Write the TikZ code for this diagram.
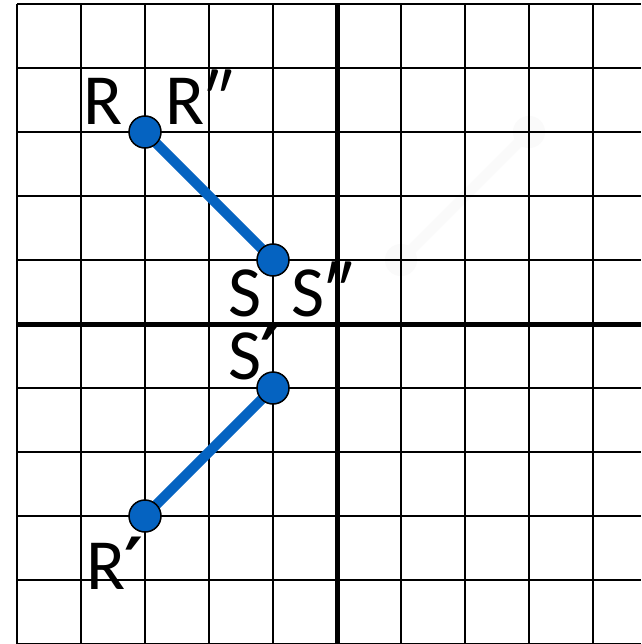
\documentclass[tikz,border=0pt]{standalone}
\usepackage{fontspec}
\setmainfont{Carlito}
\newfontfamily\primefont{DejaVu Sans}
\newcommand{\pr}{{\primefont\bfseries ′}}
\definecolor{segblue}{HTML}{0563C1}
\definecolor{ghost}{HTML}{FAFAFA}
\begin{document}
\begin{tikzpicture}[x=1pt,y=-1pt,
  gridline/.style={line width=2pt,black},
  axis/.style={line width=5pt,black},
  seg/.style={line width=10pt,segblue},
  dot/.style={circle,fill=segblue,draw=black,line width=1.5pt,minimum size=32pt,inner sep=0pt},
  ghostdot/.style={circle,fill=ghost,minimum size=32pt,inner sep=0pt},
  lbl/.style={anchor=base west,inner sep=0pt,font=\fontsize{72}{72}\selectfont}]
\useasboundingbox (0,0) rectangle (641,644);
\fill[white] (0,0) rectangle (641,644);
% ghost segment (under the grid)
\node[ghostdot] (G1) at (401,260) {};
\node[ghostdot] (G2) at (529,132) {};
\draw[line width=10pt,ghost] (G1.center) -- (G2.center);
% grid
\foreach \i in {0,...,9} {
  \draw[gridline] ({17+64*\i},4) -- ({17+64*\i},644);
}
\foreach \j in {0,...,10} {
  \draw[gridline] (17,{4+64*\j}) -- (641,{4+64*\j});
}
\draw[axis] (337,4) -- (337,644);
\draw[axis] (17,324) -- (641,324);
% segments
\coordinate (R) at (145,132);
\coordinate (S) at (273,260);
\coordinate (Sp) at (273,388);
\coordinate (Rp) at (145,516);
\draw[seg] (R) -- (S);
\draw[seg] (Sp) -- (Rp);
\node[dot] (dR) at (R) {};
\node[dot] (dS) at (S) {};
\node[dot] (dSp) at (Sp) {};
\node[dot] (dRp) at (Rp) {};
% labels
\node[lbl] (lR) at (83,125) {R};
\node[lbl] (lRpp) at (165,125) {R″};
\node[lbl] (lS) at (228,316) {S};
\node[lbl] (lSpp) at (291,316) {S″};
\node[lbl] (lSp) at (228,379) {S\kern-1pt\pr};
\node[lbl] (lRp) at (86,589) {R\kern-1pt\pr};
\end{tikzpicture}
\end{document}
